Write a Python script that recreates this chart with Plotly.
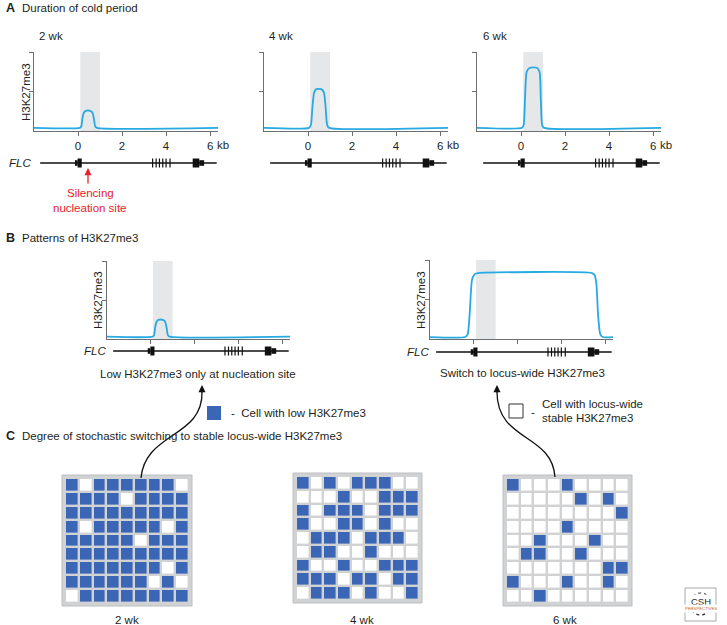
import plotly.graph_objects as go

W, H = 727, 625
FONT = "Arial, Liberation Sans, sans-serif"
TXT = "#231f20"
BLUE_LINE = "#27a9e1"
SHADE = "#e6e7e8"
CELL_BLUE = "#3a66b5"
RED = "#e3242b"
FS = 11.5

# ---------------- data ----------------
kb_ticks = [0, 2, 4, 6]
kb_labels = ["0", "2", "4", "6"]
nucleation_zone = [0.1, 1.0]          # grey band, kb

# H3K27me3 profiles (kb, relative level)
prof_2wk_x = [-2.0, 0.08, 0.15, 0.2, 0.27, 0.35, 0.55, 0.65, 0.72, 0.78, 0.86, 6.36]
prof_2wk_y = [0.08, 0.08, 0.12, 0.32, 0.47, 0.51, 0.51, 0.47, 0.32, 0.12, 0.08, 0.08]
prof_4wk_x = [-2.0, 0.05, 0.13, 0.2, 0.28, 0.38, 0.6, 0.72, 0.8, 0.87, 0.96, 6.36]
prof_4wk_y = [0.08, 0.08, 0.15, 0.6, 0.98, 1.06, 1.06, 0.98, 0.6, 0.15, 0.08, 0.08]
prof_6wk_x = [-2.0, 0.05, 0.12, 0.18, 0.26, 0.4, 0.72, 0.84, 0.9, 0.96, 1.05, 6.36]
prof_6wk_y = [0.08, 0.08, 0.15, 0.8, 1.5, 1.6, 1.6, 1.5, 0.8, 0.15, 0.08, 0.08]
prof_low_x = [-2.0, 0.08, 0.15, 0.2, 0.27, 0.35, 0.55, 0.65, 0.72, 0.78, 0.86, 6.36]
prof_low_y = [0.06, 0.06, 0.1, 0.3, 0.45, 0.49, 0.49, 0.45, 0.3, 0.1, 0.06, 0.06]
prof_wide_x = [-2.0, -0.4, -0.28, -0.18, -0.08, 0.05, 0.2, 5.4, 5.52, 5.6, 5.68, 5.78, 5.9, 6.36]
prof_wide_y = [0.05, 0.05, 0.12, 0.7, 1.5, 1.65, 1.67, 1.67, 1.62, 1.4, 0.6, 0.12, 0.05, 0.05]

# FLC gene model (kb)
gene_span = [-1.72, 6.3]
exon1_thin = [-0.14, -0.02]
exon1_thick = [-0.02, 0.17]
mid_exons = [3.39, 3.55, 3.7, 3.85, 4.0, 4.18]
last_thick = [5.21, 5.51]
last_thin = [5.51, 5.73]

# 9x9 cell states (1 = cell with low H3K27me3 / blue, 0 = locus-wide stable / white)
cells_2wk = [
    [1, 0, 1, 1, 1, 1, 1, 1, 0],
    [1, 1, 1, 1, 0, 1, 1, 1, 1],
    [1, 1, 1, 1, 1, 1, 1, 1, 1],
    [1, 0, 1, 1, 1, 1, 1, 0, 1],
    [1, 1, 1, 1, 1, 0, 1, 1, 1],
    [1, 1, 1, 1, 1, 1, 1, 1, 1],
    [1, 1, 1, 1, 1, 1, 1, 0, 1],
    [1, 1, 1, 1, 1, 1, 0, 1, 0],
    [0, 1, 1, 1, 1, 1, 1, 1, 1],
]
cells_4wk = [
    [1, 0, 1, 0, 1, 1, 1, 0, 0],
    [0, 0, 0, 1, 0, 0, 1, 1, 1],
    [1, 0, 1, 1, 1, 0, 1, 1, 1],
    [1, 0, 0, 1, 1, 0, 1, 0, 0],
    [0, 1, 1, 1, 0, 1, 1, 1, 0],
    [0, 1, 1, 0, 0, 1, 0, 0, 0],
    [1, 0, 0, 1, 0, 0, 1, 1, 1],
    [1, 1, 1, 0, 1, 1, 0, 1, 1],
    [0, 1, 1, 1, 0, 1, 0, 0, 1],
]
cells_6wk = [
    [1, 0, 0, 0, 1, 0, 0, 0, 0],
    [0, 0, 0, 0, 0, 1, 0, 1, 0],
    [0, 0, 0, 0, 0, 0, 0, 0, 1],
    [0, 0, 0, 0, 1, 0, 0, 0, 0],
    [0, 0, 1, 0, 0, 0, 1, 0, 0],
    [0, 1, 1, 0, 0, 1, 0, 0, 0],
    [0, 0, 0, 0, 0, 0, 0, 1, 1],
    [1, 0, 0, 0, 1, 0, 0, 1, 0],
    [0, 0, 1, 0, 0, 0, 0, 0, 0],
]
durations = ["2 wk", "4 wk", "6 wk"]


# ---------------- helpers ----------------
def px(x):
    return x / W


def py(y):
    return 1 - y / H


def xid(i):
    return "x" if i == 1 else f"x{i}"


def yid(i):
    return "y" if i == 1 else f"y{i}"


def xkey(i):
    return "xaxis" if i == 1 else f"xaxis{i}"


def ykey(i):
    return "yaxis" if i == 1 else f"yaxis{i}"


fig = go.Figure()
layout = dict(
    width=W, height=H, margin=dict(l=0, r=0, t=0, b=0),
    paper_bgcolor="white", plot_bgcolor="rgba(0,0,0,0)",
    showlegend=False, font=dict(family=FONT, size=FS, color=TXT),
)
shapes = []
annotations = []

XR = [-2.0, 6.36]


def profile_axes(idx, x0, x1, ytop, ybot, labels):
    layout[xkey(idx)] = dict(domain=[px(x0), px(x1)], range=XR, anchor=yid(idx),
                             showline=True, linecolor="#6d6e71", linewidth=1,
                             ticks="outside", ticklen=4, tickcolor="#6d6e71",
                             tickvals=kb_ticks, ticktext=kb_labels,
                             showticklabels=labels, showgrid=False, zeroline=False,
                             tickfont=dict(size=FS, color=TXT), fixedrange=True)
    layout[ykey(idx)] = dict(domain=[py(ybot), py(ytop)], range=[0, 2], anchor=xid(idx),
                             showline=True, linecolor="#6d6e71", linewidth=1,
                             ticks="outside", ticklen=4, tickcolor="#6d6e71",
                             tickvals=[1, 2], showticklabels=False, showgrid=False,
                             zeroline=False, fixedrange=True)


def gene_axes(idx, x0, x1, yc):
    layout[xkey(idx)] = dict(domain=[px(x0), px(x1)], range=XR, visible=False,
                             anchor=yid(idx), fixedrange=True)
    layout[ykey(idx)] = dict(domain=[py(yc + 10), py(yc - 10)], range=[-1, 1],
                             visible=False, anchor=xid(idx), fixedrange=True)


def add_profile(idx, xs, ys):
    fig.add_trace(go.Scatter(x=xs, y=ys, mode="lines", xaxis=xid(idx), yaxis=yid(idx),
                             line=dict(color=BLUE_LINE, width=1.8, shape="spline",
                                       smoothing=0.6),
                             hoverinfo="skip"))
    shapes.append(dict(type="rect", xref=xid(idx), yref=f"{yid(idx)} domain",
                       x0=nucleation_zone[0], x1=nucleation_zone[1], y0=0, y1=1,
                       fillcolor=SHADE, line=dict(width=0), layer="below"))


def add_gene(idx):
    fig.add_trace(go.Scatter(x=gene_span, y=[0, 0], mode="lines",
                             xaxis=xid(idx), yaxis=yid(idx),
                             line=dict(color="#111", width=1.6), hoverinfo="skip"))
    for (a, b), h in [(exon1_thin, 0.28), (exon1_thick, 0.45),
                      (last_thick, 0.45), (last_thin, 0.28)]:
        shapes.append(dict(type="rect", xref=xid(idx), yref=yid(idx),
                           x0=a, x1=b, y0=-h, y1=h, fillcolor="#111",
                           line=dict(width=0)))
    for e in mid_exons:
        shapes.append(dict(type="line", xref=xid(idx), yref=yid(idx),
                           x0=e, x1=e, y0=-0.45, y1=0.45,
                           line=dict(color="#111", width=1.2)))


def text(x, y, s, size=FS, xanchor="left", color=TXT, **kw):
    annotations.append(dict(x=px(x), y=py(y), xref="paper", yref="paper", text=s,
                            showarrow=False, xanchor=xanchor, yanchor="middle",
                            font=dict(family=FONT, size=size, color=color), **kw))


def arrow(x, y, dx, dy, color):
    annotations.append(dict(x=px(x), y=py(y), xref="paper", yref="paper", ax=dx, ay=dy,
                            axref="pixel", ayref="pixel", text="", showarrow=True,
                            arrowhead=2, arrowsize=1.1, arrowwidth=1.3, arrowcolor=color))


# ---------------- Panel A ----------------
text(4, 8, "<b>A</b>", size=12.5)
text(20, 8, "Duration of cold period")
A_panels = [(34, 218, prof_2wk_x, prof_2wk_y, 37), (264, 448, prof_4wk_x, prof_4wk_y, 267),
            (477, 661, prof_6wk_x, prof_6wk_y, 481)]
for i, (x0, x1, xs, ys, lx) in enumerate(A_panels):
    pidx, gidx = 1 + 2 * i, 2 + 2 * i
    profile_axes(pidx, x0, x1, 52, 131, True)
    add_profile(pidx, xs, ys)
    gene_axes(gidx, x0, x1, 163)
    add_gene(gidx)
    text(lx, 36, durations[i])
    annotations.append(dict(x=6.22, y=py(145), xref=xid(pidx), yref="paper",
                            yanchor="middle", text="kb", showarrow=False, xanchor="left",
                            font=dict(family=FONT, size=FS, color=TXT)))

text(33, 163, "<i>FLC</i>", xanchor="right")
text(26, 92, "H3K27me3", xanchor="center", textangle=-90)

# red arrow: silencing nucleation site
arrow(88, 168, 0, 17, RED)
text(90, 193, "Silencing", xanchor="center", color=RED)
text(90, 208, "nucleation site", xanchor="center", color=RED)

# ---------------- Panel B ----------------
text(4, 238, "<b>B</b>", size=12.5)
text(20, 238, "Patterns of H3K27me3")
profile_axes(7, 107, 290, 261, 339, False)
add_profile(7, prof_low_x, prof_low_y)
gene_axes(8, 107, 290, 351)
add_gene(8)
text(98, 300, "H3K27me3", xanchor="center", textangle=-90)
text(108, 351, "<i>FLC</i>", xanchor="right")
text(198, 374, "Low H3K27me3 only at nucleation site", xanchor="center")

profile_axes(9, 430, 613, 260, 339, False)
add_profile(9, prof_wide_x, prof_wide_y)
gene_axes(10, 430, 613, 352)
add_gene(10)
text(421, 300, "H3K27me3", xanchor="center", textangle=-90)
text(431, 352, "<i>FLC</i>", xanchor="right")
text(522, 373, "Switch to locus-wide H3K27me3", xanchor="center")

# legend keys
shapes.append(dict(type="rect", xref="paper", yref="paper", x0=px(207), x1=px(221),
                   y0=py(420), y1=py(406), fillcolor=CELL_BLUE, line=dict(width=0)))
text(229, 413, "-  Cell with low H3K27me3")
shapes.append(dict(type="rect", xref="paper", yref="paper", x0=px(509), x1=px(523),
                   y0=py(418), y1=py(404), fillcolor="white",
                   line=dict(color="#333", width=1)))
text(529, 412, "-")
text(540, 404, "Cell with locus-wide")
text(540, 418, "stable H3K27me3")


# curved arrows
def cubic(p0, p1, p2, p3):
    return (f"M {px(p0[0])},{py(p0[1])} C {px(p1[0])},{py(p1[1])} "
            f"{px(p2[0])},{py(p2[1])} {px(p3[0])},{py(p3[1])}")


shapes.append(dict(type="path", xref="paper", yref="paper",
                   path=cubic((141, 478), (145, 432), (203, 438), (202, 392)),
                   line=dict(color="#111", width=1.3)))
shapes.append(dict(type="path", xref="paper", yref="paper",
                   path=cubic((555, 477), (552, 433), (497, 442), (497, 392)),
                   line=dict(color="#111", width=1.3)))
arrow(202, 385, 0, 9, "#111")
arrow(497, 385, 0, 9, "#111")

# ---------------- Panel C ----------------
text(4, 436, "<b>C</b>", size=12.5)
text(20, 436, "Degree of stochastic switching to stable locus-wide H3K27me3")
grids = [(cells_2wk, 62, 192, 475, 606, 127), (cells_4wk, 293, 422, 473, 603, 362),
         (cells_6wk, 503, 632, 475, 606, 565)]
for i, (cells, x0, x1, y0, y1, lx) in enumerate(grids):
    idx = 11 + i
    pad = 3
    layout[xkey(idx)] = dict(domain=[px(x0 + pad), px(x1 - pad)], visible=False,
                             anchor=yid(idx), range=[-0.5, 8.5], fixedrange=True)
    layout[ykey(idx)] = dict(domain=[py(y1 - pad), py(y0 + pad)], visible=False,
                             anchor=xid(idx), range=[8.5, -0.5], fixedrange=True)
    shapes.append(dict(type="rect", xref="paper", yref="paper", x0=px(x0), x1=px(x1),
                       y0=py(y1), y1=py(y0), fillcolor="#d1d2d4",
                       line=dict(color="#bcbec0", width=1), layer="below"))
    fig.add_trace(go.Heatmap(z=cells, xaxis=xid(idx), yaxis=yid(idx), zmin=0, zmax=1,
                             colorscale=[[0, "white"], [1, CELL_BLUE]], showscale=False,
                             xgap=2.4, ygap=2.4, hoverinfo="skip"))
    text(lx, 620, durations[i], xanchor="center")

# CSH logo
shapes.append(dict(type="rect", xref="paper", yref="paper", x0=px(685), x1=px(716),
                   y0=py(621), y1=py(588), fillcolor="white",
                   line=dict(color="#a7a9ac", width=1)))
shapes.append(dict(type="circle", xref="paper", yref="paper", x0=px(690), x1=px(711),
                   y0=py(615), y1=py(593), line=dict(color="#333", width=1.2, dash="dot")))
text(700.5, 601, "CSH", size=9.5, xanchor="center", bgcolor="white")
text(700.5, 608, "PERSPECTIVES", size=4.2, xanchor="center", color="#c8602a",
     bgcolor="white")

layout["shapes"] = shapes
layout["annotations"] = annotations
fig.update_layout(**layout)
fig.write_html("out.html", config={"displayModeBar": False},
               post_script="document.body.style.margin='0px';"
                           "document.body.style.overflow='hidden';")
